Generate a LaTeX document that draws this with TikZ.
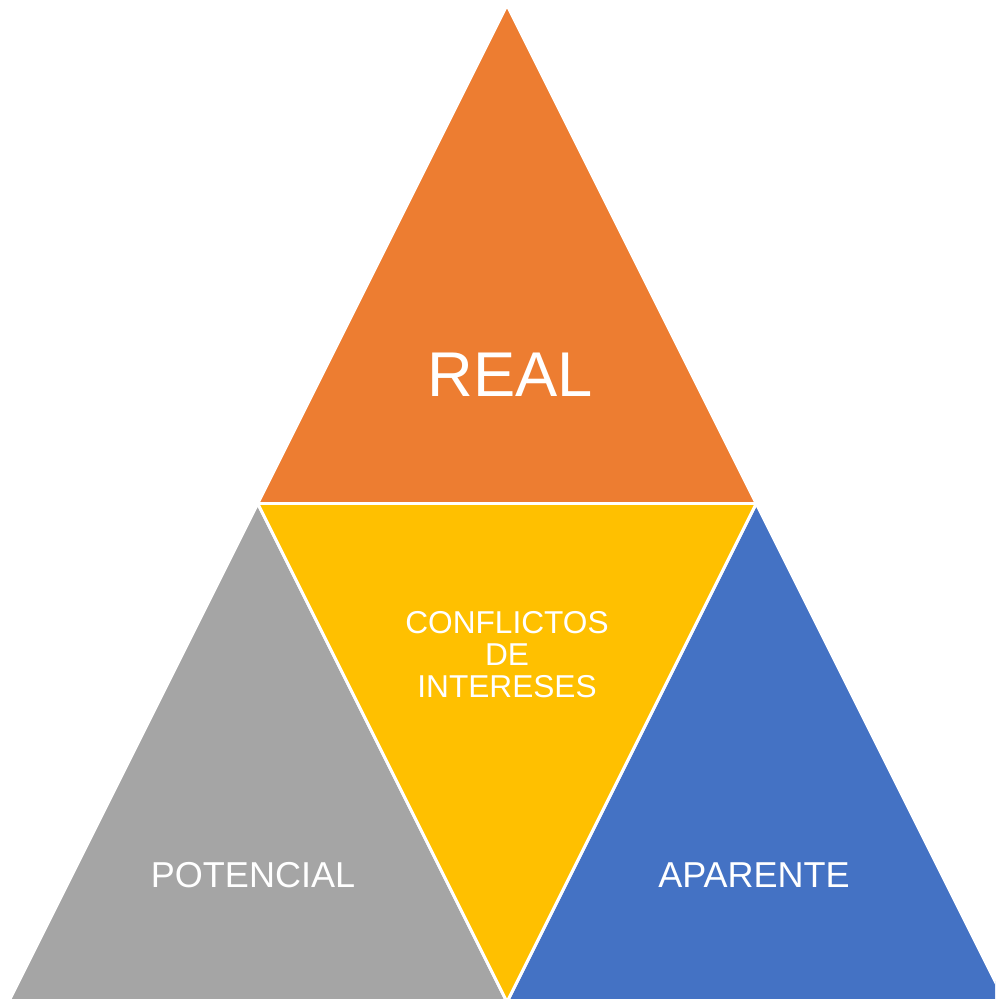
\documentclass[tikz,border=0pt]{standalone}
\usepackage{fontspec}
\setmainfont{Liberation Sans}
\usetikzlibrary{calc}

\definecolor{realorange}{HTML}{ED7D31}
\definecolor{conflyellow}{HTML}{FFC000}
\definecolor{potgray}{HTML}{A5A5A5}
\definecolor{apblue}{HTML}{4472C4}

\tikzset{
	tri/.style={draw=white, line width=1.7pt, line join=round},
	lbl/.style={text=white, inner sep=0pt, align=center},
}

\begin{document}
\begin{tikzpicture}[x=0.02cm, y=-0.02cm]
		%%%%% START %%%%%
		\useasboundingbox (0, 0) rectangle (995, 999);
		\clip (0, 0) rectangle (995, 999);
		
		\coordinate (apex) at (507, 5);
		\coordinate (baseL) at (8.5, 1002);
		\coordinate (baseR) at (1005.5, 1002);
		\coordinate (midL) at ($(apex)!0.5!(baseL)$);
		\coordinate (midR) at ($(apex)!0.5!(baseR)$);
		\coordinate (midB) at ($(baseL)!0.5!(baseR)$);
		
		% the four triangles
		\draw[tri, fill=realorange] (apex) -- (midL) -- (midR) -- cycle;
		\draw[tri, fill=potgray] (midL) -- (baseL) -- (midB) -- cycle;
		\draw[tri, fill=apblue] (midR) -- (midB) -- (baseR) -- cycle;
		\draw[tri, fill=conflyellow] (midL) -- (midR) -- (midB) -- cycle;
		
		% labels
		\node[lbl, font=\fontsize{36}{40}\selectfont] (real) at (510, 375) {REAL};
		\node[lbl, font=\fontsize{18}{18.2}\selectfont] (confl) at (507, 655) {CONFLICTOS\\DE\\INTERESES};
		\node[lbl, font=\fontsize{20.5}{24}\selectfont] (potencial) at (253, 875) {POTENCIAL};
		\node[lbl, font=\fontsize{20.5}{24}\selectfont] (aparente) at (754, 875) {APARENTE};
		
		%%%%% END %%%%%
\end{tikzpicture}
\end{document}
